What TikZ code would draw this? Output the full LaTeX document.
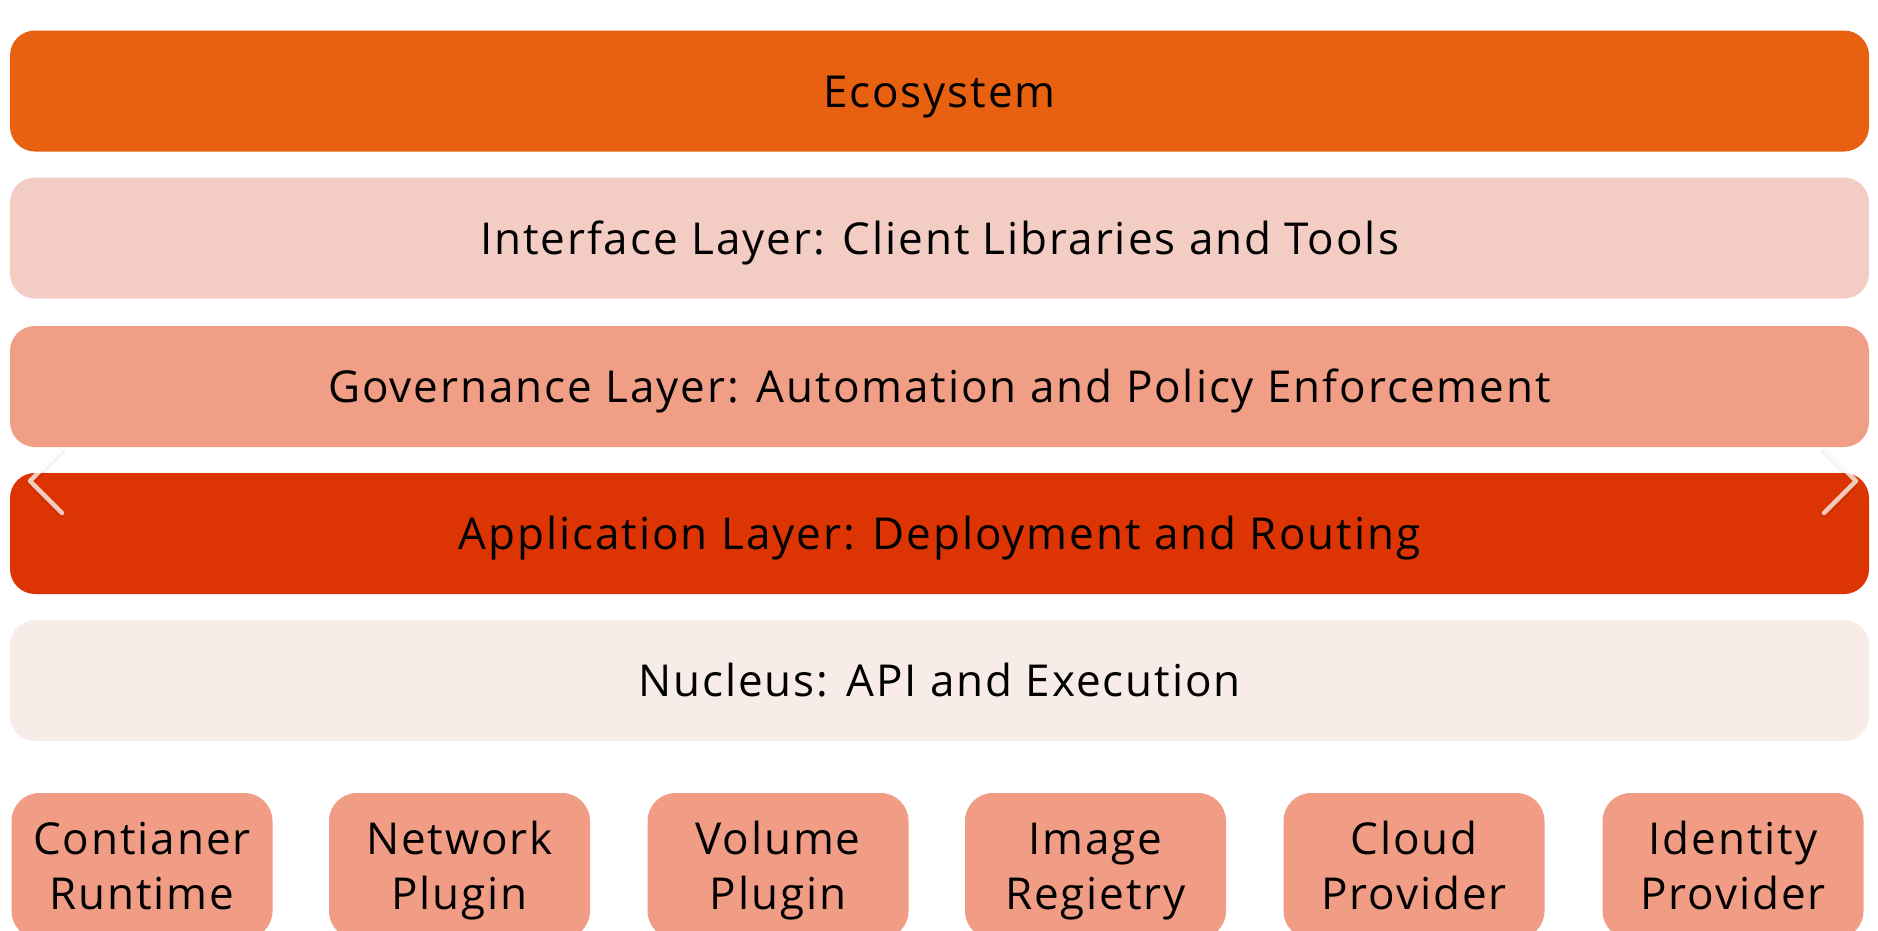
\documentclass[tikz,border=0pt]{standalone}
\usepackage{fontspec}
\setmainfont[LetterSpace=4.4]{Open Sans}
\definecolor{ecoC}{RGB}{232,97,16}
\definecolor{intC}{RGB}{243,205,195}
\definecolor{govC}{RGB}{241,158,134}
\definecolor{appC}{RGB}{220,53,3}
\definecolor{nucC}{RGB}{248,236,233}
\definecolor{boxC}{RGB}{241,157,134}
\begin{document}
\begin{tikzpicture}[x=1pt,y=-1pt,
  bar/.style={rounded corners=25pt, minimum width=1859pt, minimum height=121pt, inner sep=0pt,
    text height=32pt, text depth=0pt,
    font=\fontsize{44}{54}\selectfont, text=black},
  comp/.style={rounded corners=28pt, fill=boxC, minimum width=261pt, minimum height=146pt, inner sep=0pt,
    text height=87pt, text depth=0pt,
    align=center, font=\fontsize{44}{55}\selectfont, text=black},
  chev/.style={line width=4.5pt, line cap=round, line join=round, draw=white, draw opacity=0.75},
  chevshadow/.style={line width=6pt, line cap=round, line join=round, draw=black, draw opacity=0.06}]
\useasboundingbox (0,0) rectangle (1878,930);
\fill[white] (0,0) rectangle (1878,930);
\node[bar, fill=ecoC] (eco) at (939.5,91) {Ecosystem};
\node[bar, fill=intC] (int) at (939.5,238) {Interface Layer: Client Libraries and Tools};
\node[bar, fill=govC] (gov) at (939.5,386.5) {Governance Layer: Automation and Policy Enforcement};
\node[bar, fill=appC] (app) at (939.5,533.5) {Application Layer: Deployment and Routing};
\node[bar, fill=nucC] (nuc) at (939.5,680.5) {Nucleus: API and Execution};
\node[comp] (c1) at (142,866) {Contianer\\Runtime};
\node[comp] (c2) at (459.5,866) {Network\\Plugin};
\node[comp] (c3) at (778,866) {Volume\\Plugin};
\node[comp] (c4) at (1095.5,866) {Image\\Regietry};
\node[comp] (c5) at (1414,866) {Cloud\\Provider};
\node[comp] (c6) at (1733,866) {Identity\\Provider};
\coordinate (la) at (62,449); \coordinate (lb) at (30,481); \coordinate (lc) at (62,513);
\coordinate (ra) at (1824,449); \coordinate (rb) at (1856,481); \coordinate (rc) at (1824,513);
\draw[chevshadow, transform canvas={yshift=-2pt}] (la) -- (lb) -- (lc);
\draw[chevshadow, transform canvas={yshift=-2pt}] (ra) -- (rb) -- (rc);
\draw[chev] (la) -- (lb) -- (lc);
\draw[chev] (ra) -- (rb) -- (rc);
\end{tikzpicture}
\end{document}
